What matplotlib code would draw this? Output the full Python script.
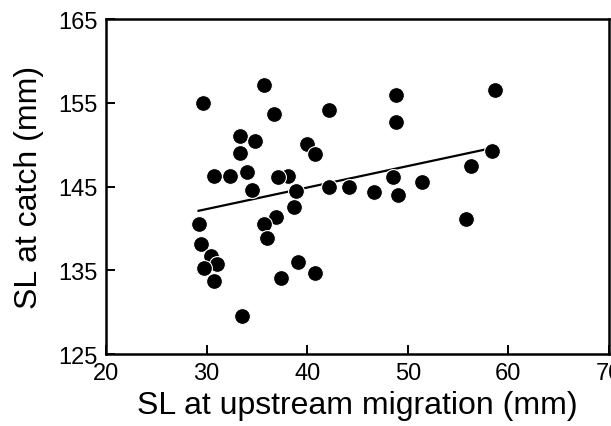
import numpy as np
import matplotlib
matplotlib.use('Agg')
import matplotlib.pyplot as plt

plt.rcParams['font.family'] = ['Liberation Sans', 'DejaVu Sans']

# SL at upstream migration (mm)
sl_up = [29.6, 35.7, 36.7, 42.2, 48.8, 48.8, 58.7, 58.4, 56.3, 55.8,
         51.4, 49.0, 48.5, 46.6, 44.2, 42.2, 40.0, 40.8, 38.9, 38.7,
         38.1, 37.1, 36.9, 35.7, 36.0, 39.1, 40.8, 37.4, 33.5, 33.3,
         34.8, 33.3, 34.0, 32.3, 30.75, 34.5, 29.2, 29.4, 30.4, 31.0,
         29.7, 30.7]
# SL at catch (mm)
sl_catch = [155.0, 157.1, 153.6, 154.1, 155.9, 152.7, 156.5, 149.2, 147.4, 141.1,
            145.5, 144.0, 146.1, 144.3, 144.9, 144.9, 150.1, 148.9, 144.5, 142.6,
            146.3, 146.1, 141.4, 140.5, 138.8, 136.0, 134.7, 134.1, 129.5, 151.0,
            150.4, 149.0, 146.7, 146.3, 146.3, 144.6, 140.5, 138.1, 136.7, 135.8,
            135.3, 133.7]

# regression line ends
fit_x = [29.2, 58.4]
fit_y = [142.1, 149.6]

fig = plt.figure(figsize=(6.11, 4.27), dpi=100)
ax = fig.add_axes([0.1735, 0.1686, 0.8232, 0.7845])

ax.plot(fit_x, fit_y, color='black', lw=1.6, zorder=2)
ax.scatter(sl_up, sl_catch, s=130, color='black', edgecolors='white',
           linewidths=0.8, zorder=3)

ax.set_xlim(20, 70)
ax.set_ylim(125, 165)
ax.set_xticks([20, 30, 40, 50, 60, 70])
ax.set_yticks([125, 135, 145, 155, 165])

for sp in ax.spines.values():
    sp.set_linewidth(1.8)
ax.tick_params(direction='in', length=6.5, width=1.4, labelsize=17, pad=6)

ax.set_xlabel('SL at upstream migration (mm)', fontsize=23, labelpad=4)
ax.set_ylabel('SL at catch (mm)', fontsize=23, labelpad=10)

fig.savefig('out.png', dpi=100)
